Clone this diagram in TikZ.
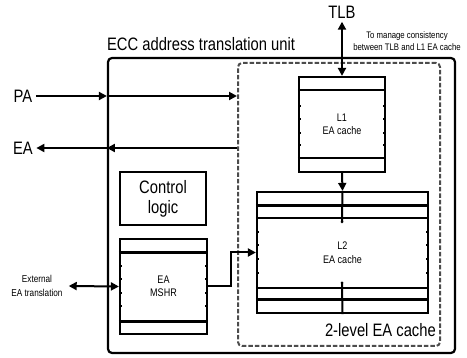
\documentclass[tikz,border=0pt]{standalone}
\usepackage{fontspec}
\setmainfont{Liberation Sans}[FakeStretch=0.82]
\usetikzlibrary{arrows.meta}

\tikzset{
  blk/.style={draw, line width=2.2pt, inner sep=0pt},
  wire/.style={line width=2pt},
  bigtxt/.style={font=\fontsize{18}{20}\selectfont},
  smalltxt/.style={font=\fontsize{11}{13.5}\selectfont, align=center},
}

\begin{document}
\begin{tikzpicture}[x=1pt, y=-1pt, >={Triangle[length=8pt,width=8pt]}]
\useasboundingbox (0,0) rectangle (467,358);

% outer unit and dashed cache region
\node[blk, rounded corners=4pt, minimum width=347pt, minimum height=295pt] (unit) at (281.5,205.5) {};
\node[draw, gray!60!black, line width=2pt, dash pattern=on 4.5pt off 2pt, rounded corners=4pt, minimum width=202pt, minimum height=283pt] (twolevel) at (339,204.5) {};
\node[bigtxt, anchor=south west, inner sep=0pt] at ([yshift=6pt]unit.north west) {ECC address translation unit};
\node[bigtxt, anchor=south east, inner sep=0pt] at ([xshift=-5pt,yshift=10pt]twolevel.south east) {2-level EA cache};

% boxes
\node[blk, minimum width=86pt, minimum height=95pt, smalltxt] (l1) at (342,124.5) {L1\\EA cache};
\node[blk, minimum width=171pt, minimum height=121pt, smalltxt] (l2) at (342.5,252.5) {L2\\EA cache};
\node[blk, minimum width=86pt, minimum height=53pt, bigtxt, align=center] (ctrl) at (163,198.5) {Control\\logic};
\node[blk, minimum width=87pt, minimum height=95pt, smalltxt] (mshr) at (163.5,286.5) {EA\\MSHR};

% bands
\draw[wire] (l1.west |- 0,90) -- (l1.east |- 0,90);
\draw[wire] (l1.west |- 0,158) -- (l1.east |- 0,158);
\draw[line width=3pt] (l2.west |- 0,206) -- (l2.east |- 0,206);
\draw[wire] (l2.west |- 0,218) -- (l2.east |- 0,218);
\draw[wire] (l2.west |- 0,288) -- (l2.east |- 0,288);
\draw[line width=3pt] (l2.west |- 0,300) -- (l2.east |- 0,300);
\draw[wire] (l2.north) -- (342,222);
\fill (342,222) circle (1.5);
\draw[wire] (342,283) -- (l2.south);
\fill (342,283) circle (1.5);
\draw[line width=3pt] (mshr.west |- 0,253) -- (mshr.east |- 0,253);
\draw[line width=3pt] (mshr.west |- 0,322) -- (mshr.east |- 0,322);

% ports
\foreach \y in {105,118,132,144} {
  \fill ([xshift=1pt]l1.west |- 0,\y) rectangle +(2.5,2.5);
  \fill ([xshift=-3.5pt]l1.east |- 0,\y) rectangle +(2.5,2.5);
}
\foreach \y in {231,244,258,272} {
  \fill ([xshift=1pt]l2.west |- 0,\y) rectangle +(2.5,2.5);
  \fill ([xshift=-3.5pt]l2.east |- 0,\y) rectangle +(2.5,2.5);
}
\foreach \y in {265,278,292,305} {
  \fill ([xshift=1pt]mshr.west |- 0,\y) rectangle +(2.5,2.5);
  \fill ([xshift=-3.5pt]mshr.east |- 0,\y) rectangle +(2.5,2.5);
}

% outside labels
\node[bigtxt] (pa) at (23,96) {PA};
\node[bigtxt] (ea) at (23,148) {EA};
\node[bigtxt] (tlb) at (342,12) {TLB};
\node[font=\fontsize{9.5}{11.5}\selectfont, align=center] (note) at (407,41) {To manage consistency\\between TLB and L1 EA cache};
\node[font=\fontsize{10}{14}\selectfont, align=center, inner sep=2pt] (ext) at (37,286) {External\\EA translation};

% connectors
\draw[wire, ->] (pa.east) -- (pa -| unit.west);
\draw[wire, ->] (pa -| unit.west) -- (pa -| twolevel.west);
\draw[wire, ->] (ea -| twolevel.west) -- (ea -| unit.west);
\draw[wire, ->] (ea -| unit.west) -- (ea.east);
\draw[wire, <->] (tlb.south) -- (l1.north);
\draw[wire, ->] (l1.south) -- (l2.north);
\draw[wire, <->] ([xshift=4pt]ext.east) -- (mshr.west);
\draw[wire, ->] (mshr.east) -- +(23,0) |- (l2.west);
\end{tikzpicture}
\end{document}
